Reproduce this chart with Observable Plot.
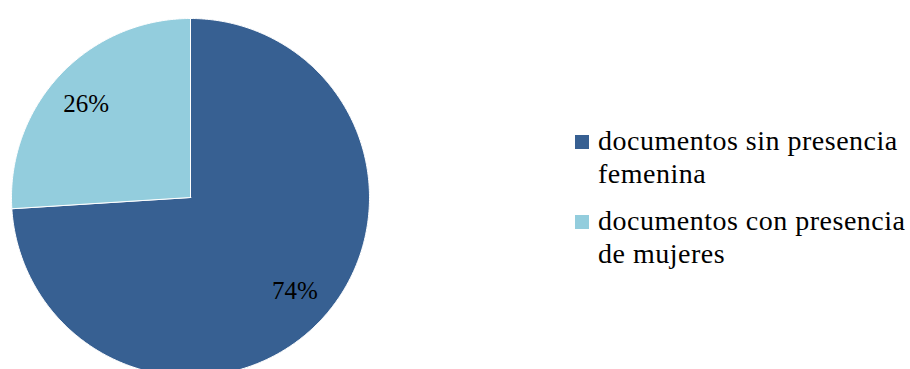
<!DOCTYPE html>
<html><head><meta charset="utf-8">
<script src="https://cdn.jsdelivr.net/npm/d3@7"></script>
<script src="https://cdn.jsdelivr.net/npm/@observablehq/plot@0.6"></script>
<style>
body{margin:0;background:#fff;}
#wrap{position:relative;width:910px;height:369px;overflow:hidden;}
.item{position:absolute;left:575px;font-family:'Times New Roman','Liberation Serif','DejaVu Serif',serif;font-size:28px;line-height:33px;letter-spacing:0.5px;color:#000;white-space:nowrap;}
.sw{position:absolute;left:0;width:14px;height:14px;}
.txt{position:absolute;left:23px;top:0;}
</style></head><body><div id="wrap"></div>
<script>
const categories = ["documentos sin presencia femenina", "documentos con presencia de mujeres"];
const values = [74, 26];
const labels = ["74%", "26%"];
const colors = ["#376092", "#93CDDD"];
const legendLines = [["documentos sin presencia", "femenina"], ["documentos con presencia", "de mujeres"]];
const serif = "'Times New Roman','Liberation Serif','DejaVu Serif',serif";

const arcs = d3.pie().sort(null).value(d => d.value)(
  categories.map((c, i) => ({cat: c, value: values[i], label: labels[i]}))
);

const pts = [];
arcs.forEach(a => {
  const n = Math.max(2, Math.ceil((a.endAngle - a.startAngle) / (Math.PI / 360)));
  pts.push({cat: a.data.cat, x: 0, y: 0});
  for (let k = 0; k <= n; k++) {
    const t = a.startAngle + (a.endAngle - a.startAngle) * k / n;
    pts.push({cat: a.data.cat, x: Math.sin(t), y: Math.cos(t)});
  }
  pts.push({cat: a.data.cat, x: 0, y: 0});
});
const lab = arcs.map(a => {
  const m = (a.startAngle + a.endAngle) / 2;
  return {x: 0.8 * Math.sin(m), y: 0.76 * Math.cos(m), text: a.data.label};
});

const chart = Plot.plot({
  width: 910,
  height: 369,
  margin: 0,
  x: {domain: [-1, 1], range: [11, 369], axis: null},
  y: {domain: [-1, 1], range: [376, 18], axis: null},
  color: {domain: categories, range: colors},
  style: {background: "#fff", overflow: "visible", fontFamily: serif},
  marks: [
    Plot.line(pts, {x: "x", y: "y", z: "cat", fill: "cat", stroke: "#fff", strokeWidth: 1, curve: "linear-closed"}),
    Plot.text(lab, {x: "x", y: "y", text: "text", fontSize: 25, fontFamily: serif, fill: "#000"})
  ]
});
const wrap = document.getElementById("wrap");
wrap.appendChild(chart);

const tops = [124, 204];
categories.forEach((c, i) => {
  const it = document.createElement("div");
  it.className = "item";
  it.style.top = tops[i] + "px";
  const sw = document.createElement("div");
  sw.className = "sw";
  sw.style.top = "11px";
  sw.style.background = colors[i];
  const tx = document.createElement("div");
  tx.className = "txt";
  tx.innerHTML = legendLines[i].join("<br>");
  it.appendChild(sw);
  it.appendChild(tx);
  wrap.appendChild(it);
});
</script>
</body></html>
